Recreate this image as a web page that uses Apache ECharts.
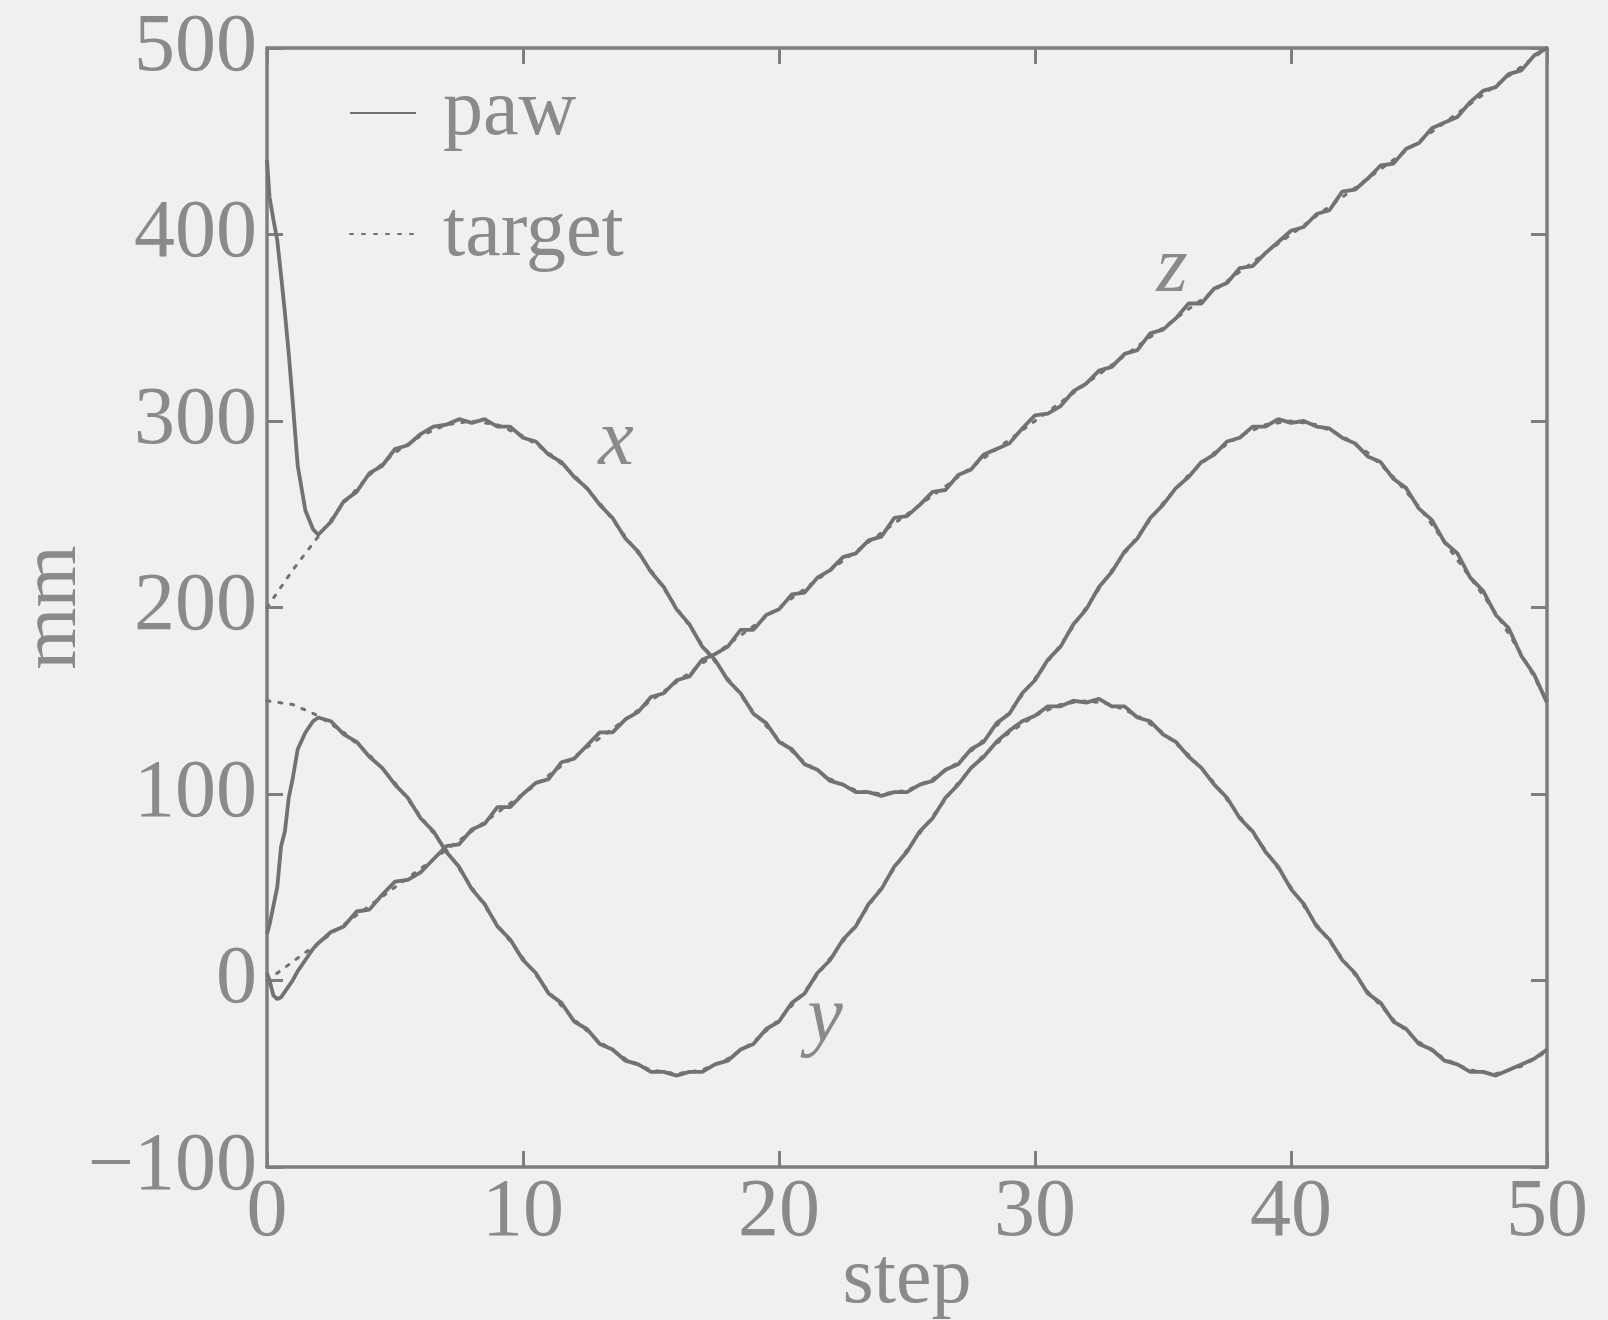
<!DOCTYPE html>
<html>
<head>
<meta charset="utf-8">
<script src="https://cdn.jsdelivr.net/npm/echarts@6/dist/echarts.min.js"></script>
<style>
  html, body { margin: 0; padding: 0; background: #f0f0ef; }
  #chart { width: 1608px; height: 1320px; }
</style>
</head>
<body>
<div id="chart"></div>
<script>
// ---------- data ----------
const xTicks = [0, 10, 20, 30, 40, 50];
const yTicks = [-100, 0, 100, 200, 300, 400, 500];

// steps at which the paw trajectory is sampled
const pawSteps = [0, 0.1, 0.25, 0.4, 0.55, 0.7, 0.85, 1.0, 1.2, 1.5, 1.8, 2.0,
  2.5, 3, 3.5, 4, 4.5, 5, 5.5, 6, 6.5, 7, 7.5, 8, 8.5, 9, 9.5, 10,
  10.5, 11, 11.5, 12, 12.5, 13, 13.5, 14, 14.5, 15, 15.5, 16, 16.5, 17, 17.5, 18,
  18.5, 19, 19.5, 20, 20.5, 21, 21.5, 22, 22.5, 23, 23.5, 24, 24.5, 25, 25.5, 26,
  26.5, 27, 27.5, 28, 28.5, 29, 29.5, 30, 30.5, 31, 31.5, 32, 32.5, 33, 33.5, 34,
  34.5, 35, 35.5, 36, 36.5, 37, 37.5, 38, 38.5, 39, 39.5, 40, 40.5, 41, 41.5, 42,
  42.5, 43, 43.5, 44, 44.5, 45, 45.5, 46, 46.5, 47, 47.5, 48, 48.5, 49, 49.5, 50];

const pawX = [440, 420, 408, 397, 378, 358, 336, 311, 276, 252, 242, 239,
  246, 257, 262, 272, 276, 285, 287, 293, 297, 298, 301, 299, 301, 297, 297, 291,
  289, 282, 278, 270, 264, 255, 248, 237, 230, 219, 211, 199, 191, 179, 172, 161,
  154, 143, 138, 128, 124, 116, 113, 107, 105, 101, 101, 99, 101, 101, 105, 107,
  113, 116, 124, 128, 138, 143, 154, 161, 172, 179, 191, 199, 211, 219, 230, 237,
  248, 255, 264, 270, 278, 282, 289, 291, 297, 297, 301, 299, 300, 297, 296, 291,
  288, 281, 278, 269, 264, 253, 247, 235, 229, 216, 209, 196, 189, 174, 164, 149];

const pawY = [25, 30, 40, 50, 72, 80, 98, 108, 124, 133, 139, 141,
  139, 132, 128, 120, 114, 105, 98, 87, 80, 69, 61, 49, 41, 29, 22, 11,
  4, -7, -12, -22, -26, -34, -37, -43, -45, -49, -49, -51, -49, -49, -45, -43,
  -37, -34, -26, -22, -12, -7, 4, 11, 22, 29, 41, 49, 61, 69, 80, 87,
  98, 105, 114, 120, 128, 134, 139, 142, 147, 147, 150, 149, 151, 147, 147, 141,
  139, 132, 128, 120, 114, 105, 98, 87, 80, 69, 61, 49, 41, 29, 22, 11,
  4, -7, -12, -22, -26, -34, -37, -43, -45, -49, -49, -51, -48, -45, -42, -37];

const pawZ = [4, 0, -8, -10, -9, -6, -3, 0, 5, 11, 17, 20,
  26, 29, 37, 38, 46, 53, 54, 58, 65, 72, 73, 81, 84, 93, 93, 100,
  106, 108, 117, 119, 126, 133, 133, 140, 144, 152, 154, 161, 163, 172, 175, 179,
  188, 188, 196, 199, 207, 208, 216, 220, 227, 229, 236, 238, 248, 249, 255, 262,
  263, 271, 274, 282, 285, 288, 296, 303, 304, 308, 316, 320, 327, 329, 336, 338,
  347, 349, 355, 363, 363, 371, 374, 382, 383, 390, 396, 402, 404, 411, 413, 423,
  424, 430, 437, 438, 446, 449, 457, 460, 463, 471, 477, 479, 486, 488, 496, 500];

// target trajectory, one value per step 0..50
const targetSteps = [0, 1, 2, 3, 4, 5, 6, 7, 8, 9, 10, 11, 12, 13, 14, 15, 16, 17, 18, 19, 20,
  21, 22, 23, 24, 25, 26, 27, 28, 29, 30, 31, 32, 33, 34, 35, 36, 37, 38, 39, 40,
  41, 42, 43, 44, 45, 46, 47, 48, 49, 50];
const targetX = [200, 220, 238, 256, 271, 283, 292, 298, 300, 298, 292, 283, 271, 256, 238, 220, 200,
  180, 162, 144, 129, 117, 108, 102, 100, 102, 108, 117, 129, 144, 162, 180, 200,
  220, 238, 256, 271, 283, 292, 298, 300, 298, 292, 283, 270, 254, 235, 216, 197, 175, 150];
const targetY = [150, 148, 142, 133, 121, 106, 88, 70, 50, 30, 12, -6, -21, -33, -42, -48, -50,
  -48, -42, -33, -21, -6, 12, 30, 50, 70, 88, 106, 121, 133, 142, 148, 150,
  148, 142, 133, 121, 106, 88, 70, 50, 30, 12, -6, -21, -33, -42, -48, -50, -46, -38];
const targetZ = [0, 10, 20, 30, 40, 50, 60, 70, 80, 90, 100, 110, 120, 130, 140, 150, 160,
  170, 180, 190, 200, 210, 220, 230, 240, 250, 260, 270, 280, 290, 300, 310, 320,
  330, 340, 350, 360, 370, 380, 390, 400, 410, 420, 430, 440, 450, 460, 470, 480, 490, 500];

const curveNames = ['x', 'y', 'z'];
const legendNames = ['paw', 'target'];

// ---------- styling ----------
const FONT = 'Liberation Serif';
const TEXT = '#8a8a8a';
const LINE = '#727272';
const AXIS = '#7e7e7e';
const labelAnchors = [[13.63, 288], [21.8, -21.3], [35.35, 381]];

function pairs(steps, vals) { return steps.map((s, i) => [s, vals[i]]); }
function fmt(v) { return v < 0 ? '\u2212' + Math.abs(v) : String(v); }

const pawSeries = [pawX, pawY, pawZ];
const targetSeries = [targetX, targetY, targetZ];

const series = [];
targetSeries.forEach((vals) => {
  series.push({
    name: legendNames[1], type: 'line', symbol: 'none', silent: true, z: 2,
    data: pairs(targetSteps, vals),
    itemStyle: { color: LINE },
    lineStyle: { color: LINE, width: 3, type: [3, 9], cap: 'round' }
  });
});
pawSeries.forEach((vals, i) => {
  series.push({
    name: legendNames[0], type: 'line', symbol: 'none', silent: true, z: 3,
    data: pairs(pawSteps, vals),
    itemStyle: { color: LINE },
    lineStyle: { color: LINE, width: 3.8 },
    markPoint: {
      symbol: 'circle', symbolSize: 0, silent: true,
      data: [{ coord: labelAnchors[i] }],
      label: {
        show: true, position: 'inside', formatter: curveNames[i],
        fontFamily: FONT, fontStyle: 'italic', fontSize: 80, color: TEXT
      }
    }
  });
});

const axisCommon = {
  type: 'value',
  splitLine: { show: false },
  nameMoveOverlap: false,
  axisLine: { show: true, onZero: false, lineStyle: { color: AXIS, width: 3.5 } },
  axisTick: { show: true, inside: true, length: 16, lineStyle: { color: AXIS, width: 3 } }
};

const chart = echarts.init(document.getElementById('chart'), null, { renderer: 'canvas' });
chart.setOption({
  backgroundColor: '#f0f0ef',
  animation: false,
  grid: { left: 267, right: 61, top: 48, bottom: 153, containLabel: false, outerBoundsMode: 'none' },
  legend: {
    data: legendNames, orient: 'vertical', left: 344, top: 68,
    itemWidth: 66, itemHeight: 14, itemGap: 41, selectedMode: false,
    itemStyle: { opacity: 0 },
    textStyle: { fontFamily: FONT, fontSize: 80, lineHeight: 80, color: TEXT, padding: [0, 0, 0, 22] }
  },
  xAxis: [
    Object.assign({}, axisCommon, {
      min: xTicks[0], max: xTicks[xTicks.length - 1], interval: 10, position: 'bottom',
      name: 'step', nameLocation: 'middle', nameGap: 74,
      nameTextStyle: { fontFamily: FONT, fontSize: 80, color: TEXT },
      axisLabel: { fontFamily: FONT, fontSize: 82, color: TEXT, margin: 5, formatter: fmt }
    }),
    Object.assign({}, axisCommon, {
      min: xTicks[0], max: xTicks[xTicks.length - 1], interval: 10, position: 'top',
      axisLabel: { show: false }
    })
  ],
  yAxis: [
    Object.assign({}, axisCommon, {
      min: yTicks[0], max: yTicks[yTicks.length - 1], interval: 100, position: 'left',
      name: 'mm', nameLocation: 'middle', nameGap: 173, nameRotate: 90,
      nameTextStyle: { fontFamily: FONT, fontSize: 80, color: TEXT },
      axisLabel: { fontFamily: FONT, fontSize: 82, color: TEXT, margin: 10, formatter: fmt }
    }),
    Object.assign({}, axisCommon, {
      min: yTicks[0], max: yTicks[yTicks.length - 1], interval: 100, position: 'right',
      axisLabel: { show: false }
    })
  ],
  series: series
});
</script>
</body>
</html>
